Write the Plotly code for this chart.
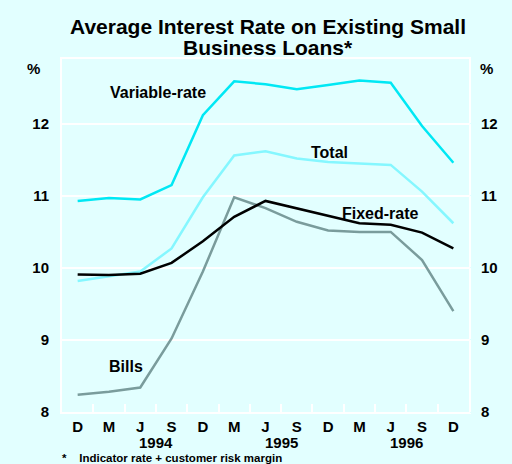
import plotly.graph_objects as go

quarters = ["D", "M", "J", "S", "D", "M", "J", "S", "D", "M", "J", "S", "D"]
years = ["1994", "1995", "1996"]
year_pos = [2.5, 6.5, 10.5]

variable_rate = [10.93, 10.97, 10.95, 11.15, 12.12, 12.59, 12.55, 12.48, 12.54, 12.60, 12.57, 11.97, 11.46]
total = [9.82, 9.89, 9.95, 10.27, 10.98, 11.56, 11.62, 11.52, 11.47, 11.45, 11.43, 11.06, 10.62]
fixed_rate = [9.91, 9.90, 9.92, 10.07, 10.37, 10.71, 10.93, 10.83, 10.73, 10.62, 10.60, 10.49, 10.27]
bills = [8.24, 8.28, 8.34, 9.02, 9.95, 10.98, 10.83, 10.64, 10.52, 10.50, 10.50, 10.11, 9.40]

y_ticks = [8, 9, 10, 11, 12]

BG = "#E2FFFF"
FONT = "Liberation Sans, Arial, sans-serif"
x = list(range(len(quarters)))

W, H = 512, 464
ML, MR, MT, MB = 62, 43, 59, 52
PH = H - MT - MB


def py(ypix):
    """pixel row -> paper y"""
    return (H - MB - ypix) / PH


fig = go.Figure()
series = [
    (bills, "#7A9C9C", "Bills"),
    (total, "#85F7FF", "Total"),
    (fixed_rate, "#000000", "Fixed-rate"),
    (variable_rate, "#00E8F4", "Variable-rate"),
]
for vals, col, name in series:
    fig.add_trace(go.Scatter(x=x, y=vals, mode="lines", name=name,
                             line=dict(color=col, width=2.5), showlegend=False))

# dummy trace for right axis
fig.add_trace(go.Scatter(x=[0], y=[8], yaxis="y2", mode="markers",
                         marker=dict(opacity=0), showlegend=False, hoverinfo="skip"))

lab_font = dict(family=FONT, size=16, color="black", weight="bold")
for text, xi, yv in [("Variable-rate", 2.56, 12.43), ("Total", 8.05, 11.6),
                     ("Fixed-rate", 9.68, 10.76), ("Bills", 1.55, 8.625)]:
    fig.add_annotation(x=xi, y=yv, text=text, showarrow=False,
                       font=lab_font, xanchor="center", yanchor="middle")

for yr, xp in zip(years, year_pos):
    fig.add_annotation(x=xp, y=py(442), yref="paper", text=yr,
                       showarrow=False, font=dict(family=FONT, size=15, color="black", weight="bold"),
                       yanchor="middle")

fig.add_annotation(x=-0.048, xref="paper", y=py(68), yref="paper", text="%",
                   showarrow=False, font=dict(family=FONT, size=15, color="black", weight="bold"),
                   xanchor="right", yanchor="middle")
fig.add_annotation(x=1.022, xref="paper", y=py(68), yref="paper", text="%",
                   showarrow=False, font=dict(family=FONT, size=15, color="black", weight="bold"),
                   xanchor="left", yanchor="middle")
fig.add_annotation(x=-0.005, xref="paper", y=py(458), yref="paper",
                   text="*    Indicator rate + customer risk margin",
                   showarrow=False, font=dict(family=FONT, size=11.5, color="black", weight="bold"),
                   xanchor="left", yanchor="middle")

# title (two lines, tight spacing)
title_font = dict(family=FONT, size=21, color="black", weight="bold")
fig.add_annotation(x=0.5, xref="paper", xshift=2, y=py(27), yref="paper",
                   text="Average Interest Rate on Existing Small", showarrow=False,
                   font=title_font, yanchor="middle")
fig.add_annotation(x=0.5, xref="paper", xshift=2, y=py(47), yref="paper",
                   text="Business Loans*", showarrow=False,
                   font=title_font, yanchor="middle")

tick_font = dict(family=FONT, size=15, color="black", weight="bold")
fig.update_layout(
    width=W, height=H,
    margin=dict(l=ML, r=MR, t=MT, b=MB),
    paper_bgcolor=BG, plot_bgcolor=BG,
    xaxis=dict(range=[-0.5, 12.5], tickmode="array", tickvals=x,
               ticktext=quarters, ticks="",
               tickfont=tick_font,
               showgrid=False, zeroline=False, showline=True, linecolor="white",
               linewidth=2, mirror=True,
               minor=dict(tickvals=[i + 0.5 for i in range(12)], ticks="inside",
                          ticklen=8, tickcolor="white", tickwidth=1.5, showgrid=False)),
    yaxis=dict(range=[8, 12.9], tickmode="array", tickvals=y_ticks,
               ticktext=[str(v) for v in y_ticks],
               tickfont=tick_font,
               showgrid=True, gridcolor="white", gridwidth=1.5, zeroline=False,
               showline=True, linecolor="white", linewidth=2, mirror=True,
               ticks="outside", ticklen=8, tickcolor=BG),
    yaxis2=dict(range=[8, 12.9], tickmode="array", tickvals=y_ticks,
                ticktext=[str(v) for v in y_ticks],
                tickfont=tick_font,
                overlaying="y", side="right", showgrid=False, zeroline=False,
                ticks="outside", ticklen=8, tickcolor=BG),
)

fig.write_html("out.html", config={"displayModeBar": False},
               post_script="document.body.style.margin='0';")
